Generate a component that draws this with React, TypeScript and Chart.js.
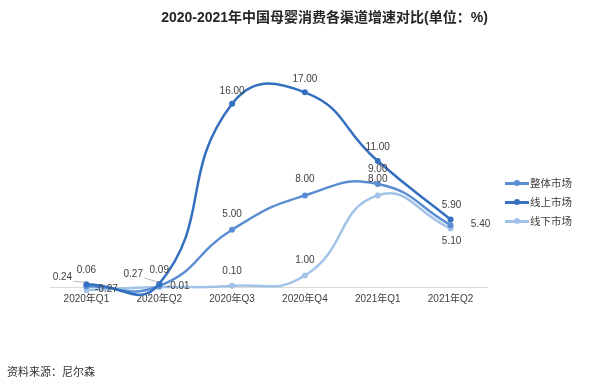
import React, { useEffect, useRef } from "react";
import { Chart, registerables } from "chart.js";

Chart.register(...registerables);

const title = "2020-2021年中国母婴消费各渠道增速对比(单位：%)";
const sourceText = "资料来源：尼尔森";
const categories = ["2020年Q1", "2020年Q2", "2020年Q3", "2020年Q4", "2021年Q1", "2021年Q2"];
const seriesNames = ["整体市场", "线上市场", "线下市场"];
const overallValues = [0.06, 0.09, 5.0, 8.0, 9.0, 5.4];
const onlineValues = [0.24, 0.27, 16.0, 17.0, 11.0, 5.9];
const offlineValues = [-0.27, -0.01, 0.1, 1.0, 8.0, 5.1];

const seriesColors = ["#5b8dd3", "#3470bf", "#a2c3e9"];
const labelOffsets: number[][][] = [
  [[0, -16], [0, -16], [0, -16], [0, -16], [0, -15], [30, -1]],
  [[-24, -7], [-26, -10], [0, -13], [0, -13], [0, -14], [1, -14]],
  [[20, -1], [19, -1], [0, -15], [0, -15], [0, -16], [1, 13]],
];
const leaderLines: boolean[][] = [
  [false, false, false, false, false, false],
  [true, true, false, false, false, false],
  [false, false, false, false, false, false],
];

const FONT = '"Liberation Sans", "Noto Sans CJK SC", sans-serif';

const labelPlugin = {
  id: "pointLabels",
  afterDatasetsDraw(chart: any) {
    const ctx = chart.ctx;
    ctx.save();
    ctx.font = `10px ${FONT}`;
    ctx.fillStyle = "#404040";
    ctx.textAlign = "center";
    ctx.textBaseline = "middle";
    chart.data.datasets.forEach((ds: any, di: number) => {
      const meta = chart.getDatasetMeta(di);
      meta.data.forEach((pt: any, i: number) => {
        const [dx, dy] = labelOffsets[di][i];
        const lx = pt.x + dx;
        const ly = pt.y + dy;
        if (leaderLines[di][i]) {
          ctx.strokeStyle = "#a6a6a6";
          ctx.lineWidth = 0.8;
          ctx.beginPath();
          ctx.moveTo(lx + 11, ly + 4);
          ctx.lineTo(pt.x - 2, pt.y - 2);
          ctx.stroke();
        }
        ctx.fillText(Number(ds.data[i]).toFixed(2), lx, ly);
      });
    });
    ctx.restore();
  },
};

export default function App() {
  const canvasRef = useRef<HTMLCanvasElement | null>(null);

  useEffect(() => {
    if (!canvasRef.current) return;
    const seriesData = [overallValues, onlineValues, offlineValues];
    const chart = new Chart(canvasRef.current, {
      type: "line",
      data: {
        labels: categories,
        datasets: seriesNames.map((name, i) => ({
          label: name,
          data: seriesData[i],
          borderColor: seriesColors[i],
          backgroundColor: seriesColors[i],
          borderWidth: 2.5,
          pointRadius: 3,
          pointBorderWidth: 0,
          tension: 0.5,
          clip: false as any,
          order: i === 1 ? 0 : i === 0 ? 1 : 2,
        })),
      },
      options: {
        animation: false,
        responsive: false,
        maintainAspectRatio: false,
        layout: { padding: { left: 50, right: 113, top: 58, bottom: 79 } },
        elements: { line: { capBezierPoints: false } },
        plugins: {
          legend: { display: false },
          tooltip: { enabled: false },
          title: { display: false },
        },
        scales: {
          x: {
            offset: true,
            grid: { display: false, drawTicks: false },
            border: { display: true, color: "#d9d9d9", width: 1 },
            ticks: {
              padding: 6,
              color: "#404040",
              font: { size: 10, family: FONT },
              maxRotation: 0,
              autoSkip: false,
            },
          },
          y: {
            display: false,
            min: 0,
            max: 20,
          },
        },
      },
      plugins: [labelPlugin],
    });
    return () => chart.destroy();
  }, []);

  const legendRow = (name: string, color: string, idx: number) => (
    <div
      key={name}
      style={{
        position: "absolute",
        left: 505,
        top: 174 + idx * 19,
        height: 18,
        display: "flex",
        alignItems: "center",
      }}
    >
      <div style={{ position: "relative", width: 24, height: 18 }}>
        <div
          style={{
            position: "absolute",
            left: 0,
            top: 8,
            width: 24,
            height: 2.5,
            background: color,
          }}
        />
        <div
          style={{
            position: "absolute",
            left: 9,
            top: 6,
            width: 6,
            height: 6,
            borderRadius: 3,
            background: color,
          }}
        />
      </div>
      <span
        style={{
          marginLeft: 1,
          fontSize: 10.5,
          color: "#404040",
          fontFamily: FONT,
          lineHeight: "18px",
        }}
      >
        {name}
      </span>
    </div>
  );

  return (
    <div
      style={{
        position: "fixed",
        left: 0,
        top: 0,
        width: 600,
        height: 390,
        background: "#ffffff",
        overflow: "hidden",
      }}
    >
      <canvas
        ref={canvasRef}
        width={600}
        height={390}
        style={{ position: "absolute", left: 0, top: 0, width: 600, height: 390 }}
      />
      <div
        style={{
          position: "absolute",
          left: 0,
          top: 9,
          width: 649,
          textAlign: "center",
          fontFamily: FONT,
          fontWeight: "bold",
          fontSize: 14,
          lineHeight: "17px",
          color: "#262626",
        }}
      >
        {title}
      </div>
      {seriesNames.map((n, i) => legendRow(n, seriesColors[i], i))}
      <div
        style={{
          position: "absolute",
          left: 7,
          top: 364,
          fontFamily: FONT,
          fontSize: 11,
          lineHeight: "16px",
          color: "#333333",
        }}
      >
        {sourceText}
      </div>
    </div>
  );
}
